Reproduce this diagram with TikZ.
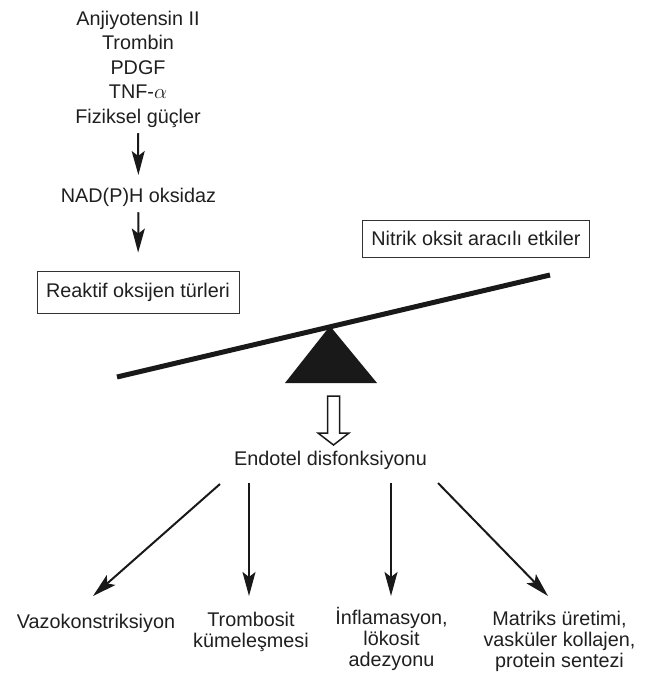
\documentclass[tikz,border=0pt]{standalone}
\usepackage{fontspec}
\setmainfont{Liberation Sans}
\usetikzlibrary{arrows.meta}
\begin{document}
\begin{tikzpicture}[x=1pt,y=-1pt,
  txt/.style={font=\fontsize{19.8pt}{24.5pt}\selectfont, inner sep=0pt, align=center, text=black!88},
  lbl/.style={font=\fontsize{19.8pt}{21pt}\selectfont, inner sep=0pt, align=center, anchor=north, text=black!88},
  boxed/.style={draw=black!80, line width=0.9pt, font=\fontsize{19.8pt}{24pt}\selectfont, inner xsep=9pt, inner ysep=0pt, text=black!88},
  arr/.style={line width=2pt, draw=black!90, -{Stealth[length=24pt,width=13pt,inset=5pt]}},
  beam/.style={line width=5pt, draw=black!90},
  fulcrum/.style={fill=black!90},
  hollow/.style={line width=1.5pt, draw=black!90, fill=white, line join=miter}]
\useasboundingbox (0,0) rectangle (645,675);

% upstream chain
\node[txt, anchor=north] (src) at (138,10.8) {Anjiyotensin II\\Trombin\\PDGF\\TNF-$\alpha$\\Fiziksel güçler};
\node[txt, anchor=north] (nad) at (138.5,187.6) {NAD(P)H oksidaz};
\node[boxed, minimum width=202pt, minimum height=42pt] (ros) at (138,292) {Reaktif oksijen türleri};
\node[boxed, anchor=west, minimum height=37pt] (no) at (362,238.5) {Nitrik oksit aracılı etkiler};

\draw[arr, shorten <=5.5pt, shorten >=12.6pt] (src.south) -- (nad.north);
\draw[arr, shorten <=5.8pt, shorten >=18pt] (nad.south) -- (ros.north);

% balance
\draw[beam] (117,377) -- (550,275);
\fill[fulcrum] (330,326) -- (377,383) -- (285,383) -- cycle;

% hollow arrow
\draw[hollow] (327.5,396) -- (339.5,396) -- (339.5,433) -- (349,433) -- (333.5,445) -- (318,433) -- (327.5,433) -- cycle;

\node[txt, anchor=north] (endo) at (330.5,450.8) {Endotel disfonksiyonu};

% outcomes
\node[lbl] (vazo) at (96,613.5) {Vazokonstriksiyon};
\node[lbl] (trom) at (251,612.3) {Trombosit\\kümeleşmesi};
\node[lbl] (infl) at (391.5,607.5) {İnflamasyon,\\lökosit\\adezyonu};
\node[lbl] (matr) at (559.5,611) {Matriks üretimi,\\vasküler kollajen,\\protein sentezi};

\coordinate (e1) at (220,484);
\coordinate (e2) at (249,483);
\coordinate (e3) at (391,483);
\coordinate (e4) at (438,483);
\coordinate (t1) at (93,596);
\coordinate (t2) at (249,596);
\coordinate (t3) at (391,596);
\coordinate (t4) at (548,596);

\draw[arr] (e1) -- (t1);
\draw[arr] (e2) -- (t2);
\draw[arr] (e3) -- (t3);
\draw[arr] (e4) -- (t4);
\end{tikzpicture}
\end{document}
